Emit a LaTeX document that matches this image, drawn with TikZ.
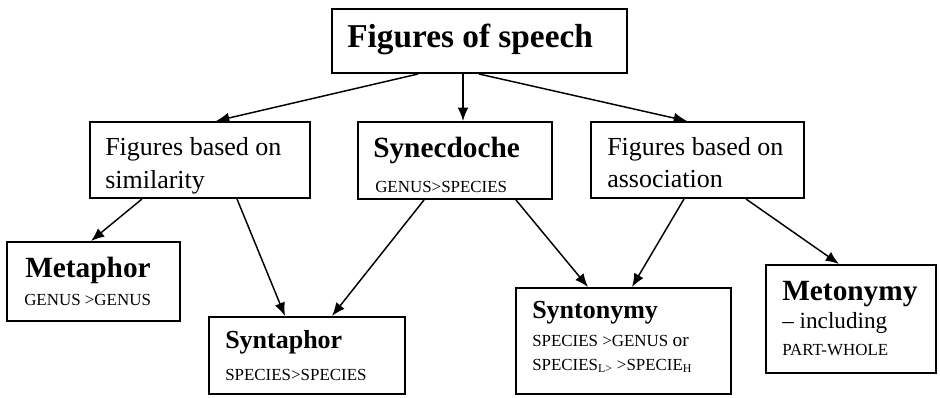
\documentclass[tikz,border=0pt]{standalone}
\usepackage{fontspec}
\setmainfont{Liberation Serif}
\usetikzlibrary{arrows.meta,fit,calc}

\newcommand{\bigtitle}{\bfseries\fontsize{25}{30}\selectfont}
\newcommand{\boxtitle}{\bfseries\fontsize{22}{26}\selectfont}
\newcommand{\smalltitle}{\bfseries\fontsize{19.5}{23}\selectfont}
\newcommand{\plaintext}{\fontsize{19.5}{23}\selectfont}
\newcommand{\midtext}{\fontsize{17.4}{21}\selectfont}
\newcommand{\capstext}{\fontsize{12.7}{15}\selectfont}

\tikzset{
  box/.style={draw, line width=1.5pt, inner sep=0pt},
  arr/.style={-{Latex[length=10pt,width=8pt]}, line width=1.1pt},
  txt/.style={anchor=base west, inner sep=0pt}
}

\begin{document}
\begin{tikzpicture}[x=0.75pt,y=-0.75pt]
    \useasboundingbox (0,0) rectangle (940,397);
    % Boxes
    \node[box, fit={(332,9) (627,73)}] (top) {};
    \node[box, fit={(90,122) (310,198)}] (simil) {};
    \node[box, fit={(358,122) (552,199)}] (syne) {};
    \node[box, fit={(591,122) (804,198)}] (assoc) {};
    \node[box, fit={(7,242) (180,321)}] (meta) {};
    \node[box, fit={(209,317) (405,394)}] (syntaph) {};
    \node[box, fit={(516,288) (731,394)}] (syntonym) {};
    \node[box, fit={(766,265) (936,373)}] (meton) {};
    % Texts
    \node[txt] (topT) at (347,47) {\bigtitle Figures of speech};
    \node[txt] (similA) at (105,155) {\plaintext Figures based on};
    \node[txt] (similB) at (105,188) {\plaintext similarity};
    \node[txt] (syneA) at (373,157) {\boxtitle Synecdoche};
    \node[txt] (syneB) at (375,192) {\capstext GENUS>SPECIES};
    \node[txt] (assocA) at (607,155) {\plaintext Figures based on};
    \node[txt] (assocB) at (607,187) {\plaintext association};
    \node[txt] (metaA) at (25,277) {\boxtitle Metaphor};
    \node[txt] (metaB) at (24,305) {\capstext GENUS >GENUS};
    \node[txt] (syntaphA) at (225,348) {\smalltitle Syntaphor};
    \node[txt] (syntaphB) at (225,380) {\capstext SPECIES>SPECIES};
    \node[txt] (syntonymA) at (532,318) {\smalltitle Syntonymy};
    \node[txt] (syntonymB) at (532,346) {\capstext SPECIES >GENUS {\fontsize{14.5}{17}\selectfont or}};
    \node[txt] (syntonymC) at (532,370) {\capstext SPECIES\textsubscript{L>} >SPECIE\textsubscript{H}};
    \node[txt] (metonA) at (782,300) {\boxtitle Metonymy};
    \node[txt] (metonB) at (782,328) {\midtext \textendash{} including};
    \node[txt] (metonC) at (782,355) {\capstext PART-WHOLE};
    % Arrows
    \draw[arr] ($(top.south west)+(87,0)$) -- ($(simil.north west)+(127,0)$);
    \draw[arr] ($(top.south west)+(132,0)$) -- ($(syne.north west)+(106,0)$);
    \draw[arr] ($(top.south west)+(148,0)$) -- ($(assoc.north west)+(97,0)$);
    \draw[arr] ($(simil.south west)+(53,0)$) -- ($(meta.north west)+(85,0)$);
    \draw[arr] ($(simil.south west)+(148,0)$) -- ($(syntaph.north west)+(77,0)$);
    \draw[arr] ($(syne.south west)+(67,0)$) -- ($(syntaph.north west)+(124,0)$);
    \draw[arr] ($(syne.south west)+(159,0)$) -- ($(syntonym.north west)+(73,0)$);
    \draw[arr] ($(assoc.south west)+(94,0)$) -- ($(syntonym.north west)+(117,0)$);
    \draw[arr] ($(assoc.south west)+(156,0)$) -- ($(meton.north west)+(74,0)$);
\end{tikzpicture}
\end{document}
